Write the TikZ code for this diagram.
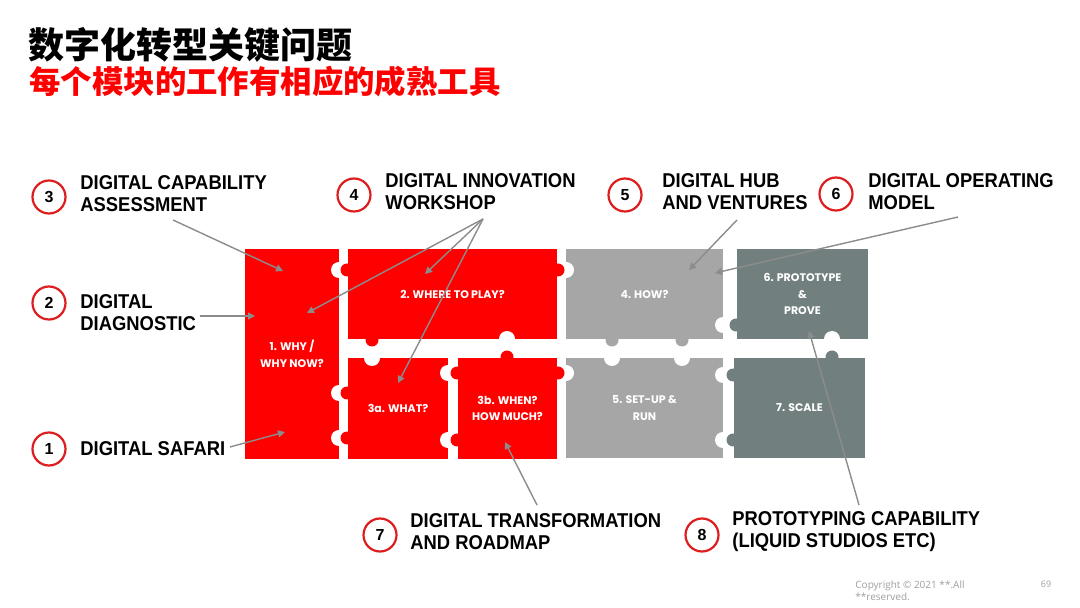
\documentclass[tikz,border=0pt]{standalone}
\usepackage{fontspec}
\setmainfont{Liberation Sans}
\newfontfamily\cjk{Noto Sans CJK SC}
\newfontfamily\piecefont{Poppins}
\newfontfamily\notefont{Open Sans}
\newfontfamily\labfont{Liberation Sans}[FakeStretch=0.92]
\usetikzlibrary{arrows.meta}
\definecolor{piecered}{RGB}{255,0,0}
\definecolor{piecegrey}{RGB}{166,166,166}
\definecolor{piecedark}{RGB}{113,128,126}
\definecolor{ringred}{RGB}{222,30,30}
\definecolor{arrowgrey}{RGB}{140,140,140}
\begin{document}
\begin{tikzpicture}[x=0.5pt,y=-0.5pt,
piece/.style={fill=#1,inner sep=0pt,outer sep=0pt,text=white,align=center,font=\piecefont\bfseries\fontsize{5.5}{8.3}\selectfont},
num/.style={circle,draw=ringred,line width=1.1pt,minimum size=16.5pt,inner sep=0pt,font=\bfseries\fontsize{8}{8}\selectfont},
lab/.style={anchor=west,align=left,inner sep=0pt,font=\labfont\bfseries\fontsize{10}{11}\selectfont},
arr/.style={draw=arrowgrey,line width=0.7pt,-{Triangle[length=3.5pt,width=3.5pt]}}
]
\fill[white] (0,0) rectangle (1080,608);
\node[anchor=west,inner sep=0pt,font=\cjk\bfseries\fontsize{18}{18}\selectfont] (title) at (28,45) {数字化转型关键问题};
\node[anchor=west,inner sep=0pt,text=piecered,font=\cjk\bfseries\fontsize{15.7}{15.7}\selectfont] (subtitle) at (29,82) {每个模块的工作有相应的成熟工具};

% puzzle
\node[piece=piecered,minimum width=47pt,minimum height=105pt] (why) at (292,354) {1. WHY /\\WHY NOW?};
\node[piece=piecered,minimum width=104.5pt,minimum height=45pt] (where) at (452.5,294) {2. WHERE TO PLAY?};
\node[piece=piecered,minimum width=50pt,minimum height=50.5pt] (what) at (398,408.5) {3a. WHAT?};
\node[piece=piecered,minimum width=49.5pt,minimum height=50.5pt] (when) at (507.5,408.5) {3b. WHEN?\\HOW MUCH?};
\node[piece=piecegrey,minimum width=78.5pt,minimum height=45pt] (how) at (644.5,294) {4. HOW?};
\node[piece=piecegrey,minimum width=78.5pt,minimum height=50pt] (setup) at (644.5,408) {5. SET-UP \&\\RUN};
\node[piece=piecedark,minimum width=65.5pt,minimum height=45pt] (proto) at (802.5,294) {6. PROTOTYPE\\\&\\PROVE};
\node[piece=piecedark,minimum width=65.5pt,minimum height=50pt] (scale) at (799.5,408) {7. SCALE};

\fill[white] (339,270) circle[radius=4pt] (566,270) circle[radius=4pt] (372,358) circle[radius=4pt]
  (507,339) circle[radius=4pt] (339,393) circle[radius=4pt] (339,438) circle[radius=4pt]
  (448,373) circle[radius=4pt] (448,440) circle[radius=4pt] (566,373) circle[radius=4pt]
  (723,325) circle[radius=4pt] (612,358) circle[radius=4pt] (682,358) circle[radius=4pt]
  (832,339) circle[radius=4pt] (723,375) circle[radius=4pt] (723,440) circle[radius=4pt];
\fill[piecered] (347,270) circle[radius=3.25pt] (558,270) circle[radius=3.25pt] (372,340) circle[radius=3.25pt]
  (507,357) circle[radius=3.25pt] (347,393) circle[radius=3.25pt] (347,438) circle[radius=3.25pt]
  (457,373) circle[radius=3.25pt] (457,440) circle[radius=3.25pt] (558,373) circle[radius=3.25pt];
\fill[piecegrey] (612,340) circle[radius=3.25pt] (682,340) circle[radius=3.25pt];
\fill[piecedark] (736,325) circle[radius=3.25pt] (832,357) circle[radius=3.25pt]
  (733,375) circle[radius=3.25pt] (733,440) circle[radius=3.25pt];

% labels
\node[num] (n3) at (49,197) {3};
\node[lab] (l3) at (80,194) {DIGITAL CAPABILITY\\ASSESSMENT};
\node[num] (n2) at (49,303) {2};
\node[lab] (l2) at (80,313) {DIGITAL\\DIAGNOSTIC};
\node[num] (n1) at (49,449) {1};
\node[lab] (l1) at (80,449) {DIGITAL SAFARI};
\node[num] (n4) at (354,195) {4};
\node[lab] (l4) at (385,192) {DIGITAL INNOVATION\\WORKSHOP};
\node[num] (n5) at (625,195) {5};
\node[lab] (l5) at (662,192) {DIGITAL HUB\\AND VENTURES};
\node[num] (n6) at (836,194) {6};
\node[lab] (l6) at (868,192) {DIGITAL OPERATING\\MODEL};
\node[num] (n7) at (380,535) {7};
\node[lab] (l7) at (410,532) {DIGITAL TRANSFORMATION\\AND ROADMAP};
\node[num] (n8) at (702,535) {8};
\node[lab] (l8) at (732,532) {PROTOTYPING CAPABILITY\\(LIQUID STUDIOS ETC)};

\coordinate (a3) at (173,220); \coordinate (t3) at (283,271);
\coordinate (a2) at (200,316); \coordinate (t2) at (255,316);
\coordinate (a1) at (230,447); \coordinate (t1) at (285,432);
\coordinate (a4) at (483,219); \coordinate (t4a) at (307,313); \coordinate (t4b) at (425,274); \coordinate (t4c) at (398,383);
\coordinate (a5) at (737,220); \coordinate (t5) at (689,270);
\coordinate (a6) at (958,217); \coordinate (t6) at (715,273);
\coordinate (a7) at (537,505); \coordinate (t7) at (505,442);
\coordinate (a8) at (859,505); \coordinate (t8) at (809,331);
\draw[arr] (a3) -- (t3);
\draw[arr] (a2) -- (t2);
\draw[arr] (a1) -- (t1);
\draw[arr] (a4) -- (t4a);
\draw[arr] (a4) -- (t4b);
\draw[arr] (a4) -- (t4c);
\draw[arr] (a5) -- (t5);
\draw[arr] (a6) -- (t6);
\draw[arr] (a7) -- (t7);
\draw[arr] (a8) -- (t8);

\node[anchor=west,align=left,inner sep=0pt,text=gray!75,font=\notefont\fontsize{5}{6}\selectfont] (copy) at (855,591) {Copyright © 2021 **.All\\**reserved.};
\node[inner sep=0pt,text=gray!75,font=\notefont\fontsize{4.5}{4.5}\selectfont] (page) at (1046,584) {69};
\end{tikzpicture}
\end{document}
